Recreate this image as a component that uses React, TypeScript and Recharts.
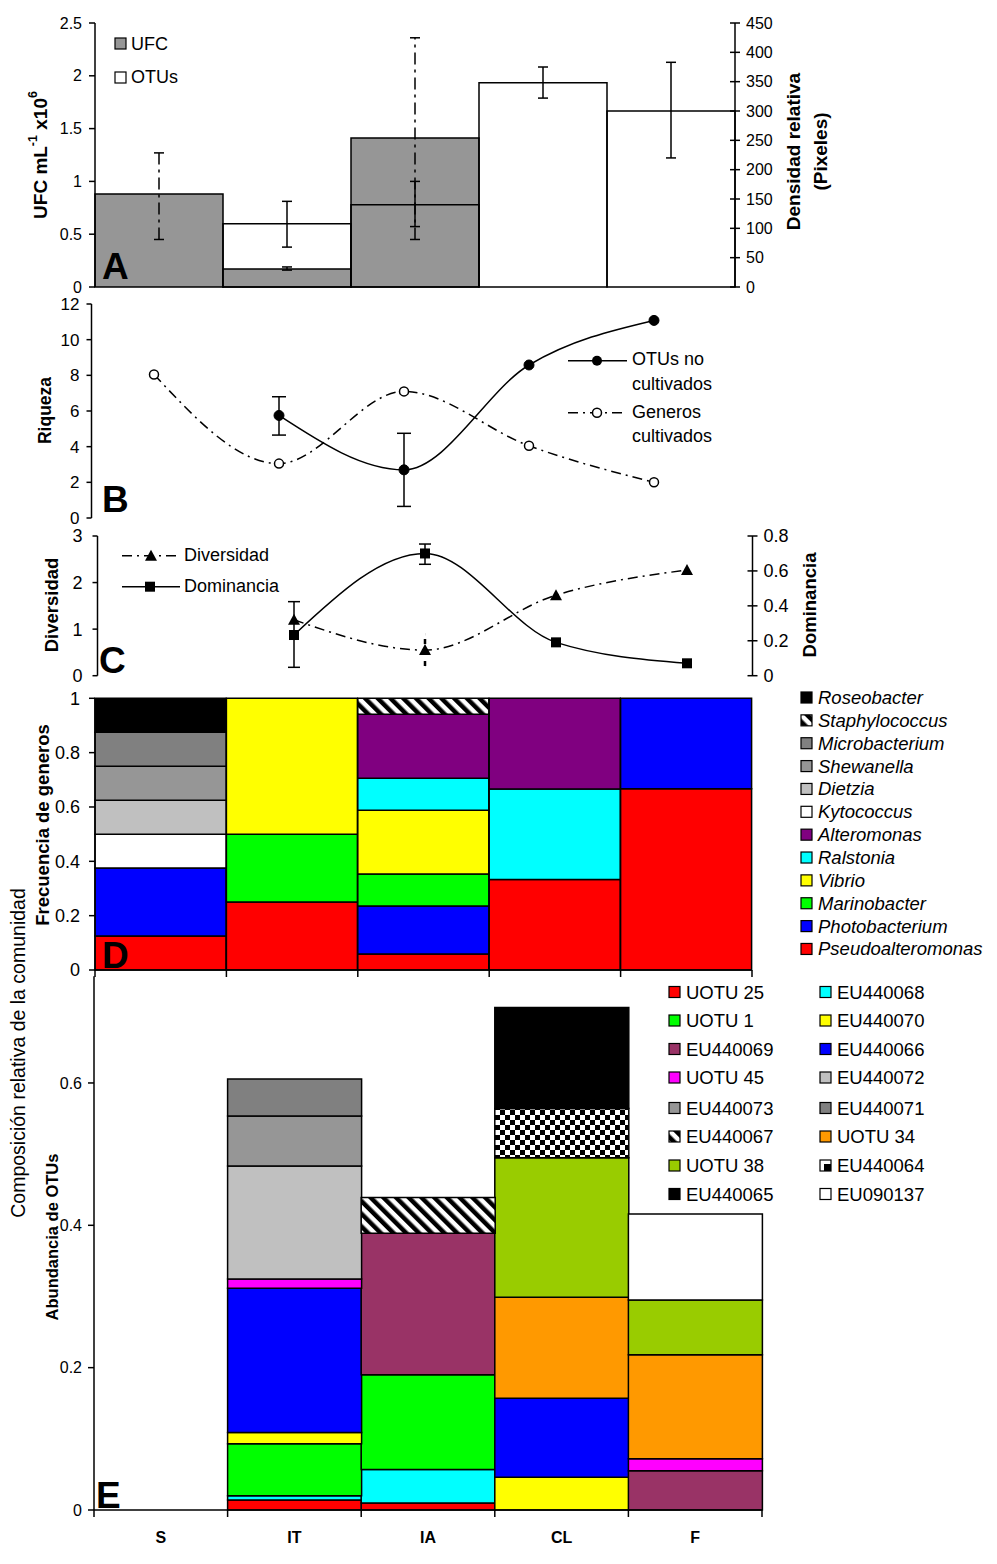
import React from 'react';
import { ComposedChart, Bar, Line, XAxis, YAxis, ErrorBar } from 'recharts';

const FONT = '"Liberation Sans", Arial, Helvetica, sans-serif';
const PAGE_W = 997;
const PAGE_H = 1564;

const categories = ['S', 'IT', 'IA', 'CL', 'F'];

// ---------- Panel A ----------
const ufcValues = [0.88, 0.17, 1.41, 0, 0];
const ufcLow = [0.45, 0.16, 0.45, 0, 0];
const ufcHigh = [1.27, 0.19, 2.36, 0, 0];
const otuDensity = [0, 108, 140, 348, 300];
const otuDensityLow = [0, 68, 103, 322, 220];
const otuDensityHigh = [0, 146, 180, 375, 383];
const ufcTicks = [0, 0.5, 1, 1.5, 2, 2.5];
const densityTicks = [0, 50, 100, 150, 200, 250, 300, 350, 400, 450];

// ---------- Panel B ----------
const generosCultivados = [8.05, 3.05, 7.1, 4.05, 2.0];
const otusNoCultivados = [null, 5.75, 2.7, 8.58, 11.08];
const otusNoCultLow = [null, 4.65, 0.65, null, null];
const otusNoCultHigh = [null, 6.8, 4.75, null, null];
const riquezaTicks = [0, 2, 4, 6, 8, 10, 12];

// ---------- Panel C ----------
const diversidad = [null, 1.2, 0.55, 1.73, 2.27];
const diversidadLow = [null, null, 0.21, null, null];
const diversidadHigh = [null, null, 0.89, null, null];
const dominancia = [null, 0.233, 0.7, 0.191, 0.071];
const dominanciaLow = [null, 0.048, 0.638, null, null];
const dominanciaHigh = [null, 0.424, 0.754, null, null];
const diversidadTicks = [0, 1, 2, 3];
const dominanciaTicks = [0, 0.2, 0.4, 0.6, 0.8];

// ---------- Panel D (genera frequency), stack order bottom -> top ----------
const pseudoalteromonas = [0.125, 0.25, 0.0588, 0.3333, 0.6667];
const photobacterium = [0.25, 0, 0.1765, 0, 0.3333];
const marinobacter = [0, 0.25, 0.1176, 0, 0];
const vibrio = [0, 0.5, 0.2353, 0, 0];
const ralstonia = [0, 0, 0.1176, 0.3333, 0];
const alteromonas = [0, 0, 0.2353, 0.3334, 0];
const kytococcus = [0.125, 0, 0, 0, 0];
const dietzia = [0.125, 0, 0, 0, 0];
const shewanella = [0.125, 0, 0, 0, 0];
const microbacterium = [0.125, 0, 0, 0, 0];
const staphylococcus = [0, 0, 0.0589, 0, 0];
const roseobacter = [0.125, 0, 0, 0, 0];
const frecuenciaTicks = [0, 0.2, 0.4, 0.6, 0.8, 1];

const generaSeries = [
  { name: 'Pseudoalteromonas', values: pseudoalteromonas },
  { name: 'Photobacterium', values: photobacterium },
  { name: 'Marinobacter', values: marinobacter },
  { name: 'Vibrio', values: vibrio },
  { name: 'Ralstonia', values: ralstonia },
  { name: 'Alteromonas', values: alteromonas },
  { name: 'Kytococcus', values: kytococcus },
  { name: 'Dietzia', values: dietzia },
  { name: 'Shewanella', values: shewanella },
  { name: 'Microbacterium', values: microbacterium },
  { name: 'Staphylococcus', values: staphylococcus },
  { name: 'Roseobacter', values: roseobacter },
];
const generaLegendOrder = [
  'Roseobacter', 'Staphylococcus', 'Microbacterium', 'Shewanella', 'Dietzia', 'Kytococcus',
  'Alteromonas', 'Ralstonia', 'Vibrio', 'Marinobacter', 'Photobacterium', 'Pseudoalteromonas',
];

// ---------- Panel E (OTU abundance), stack order bottom -> top ----------
const uotu25 = [0, 0.014, 0.01, 0, 0];
const eu440068 = [0, 0.006, 0.047, 0, 0];
const uotu1 = [0, 0.073, 0.133, 0, 0];
const eu440070 = [0, 0.016, 0, 0.046, 0];
const eu440066 = [0, 0.2025, 0, 0.111, 0];
const eu440069 = [0, 0, 0.199, 0, 0.055];
const uotu45 = [0, 0.013, 0, 0, 0.017];
const uotu34 = [0, 0, 0, 0.142, 0.146];
const uotu38 = [0, 0, 0, 0.196, 0.077];
const eu440072 = [0, 0.159, 0, 0, 0];
const eu440073 = [0, 0.07, 0, 0, 0];
const eu440071 = [0, 0.052, 0, 0, 0];
const eu440067 = [0, 0, 0.05, 0, 0];
const eu440064 = [0, 0, 0, 0.069, 0];
const eu440065 = [0, 0, 0, 0.142, 0];
const eu090137 = [0, 0, 0, 0, 0.121];
const abundanciaTicks = [0, 0.2, 0.4, 0.6];

const otuSeries = [
  { name: 'UOTU 25', values: uotu25 },
  { name: 'EU440068', values: eu440068 },
  { name: 'UOTU 1', values: uotu1 },
  { name: 'EU440070', values: eu440070 },
  { name: 'EU440066', values: eu440066 },
  { name: 'EU440069', values: eu440069 },
  { name: 'UOTU 45', values: uotu45 },
  { name: 'UOTU 34', values: uotu34 },
  { name: 'UOTU 38', values: uotu38 },
  { name: 'EU440072', values: eu440072 },
  { name: 'EU440073', values: eu440073 },
  { name: 'EU440071', values: eu440071 },
  { name: 'EU440067', values: eu440067 },
  { name: 'EU440064', values: eu440064 },
  { name: 'EU440065', values: eu440065 },
  { name: 'EU090137', values: eu090137 },
];
const otuLegendCol1 = ['UOTU 25', 'UOTU 1', 'EU440069', 'UOTU 45', 'EU440073', 'EU440067', 'UOTU 38', 'EU440065'];
const otuLegendCol2 = ['EU440068', 'EU440070', 'EU440066', 'EU440072', 'EU440071', 'UOTU 34', 'EU440064', 'EU090137'];

// ---------- styles ----------
const generaFill: Record<string, string> = {
  Pseudoalteromonas: '#FF0000',
  Photobacterium: '#0000FF',
  Marinobacter: '#00FF00',
  Vibrio: '#FFFF00',
  Ralstonia: '#00FFFF',
  Alteromonas: '#800080',
  Kytococcus: '#FFFFFF',
  Dietzia: '#C0C0C0',
  Shewanella: '#969696',
  Microbacterium: '#808080',
  Staphylococcus: 'url(#hatchDiag)',
  Roseobacter: '#000000',
};
const otuFill: Record<string, string> = {
  'UOTU 25': '#FF0000',
  'EU440068': '#00FFFF',
  'UOTU 1': '#00FF00',
  'EU440070': '#FFFF00',
  'EU440066': '#0000FF',
  'EU440069': '#993366',
  'UOTU 45': '#FF00FF',
  'UOTU 34': '#FF9900',
  'UOTU 38': '#99CC00',
  'EU440072': '#C0C0C0',
  'EU440073': '#969696',
  'EU440071': '#808080',
  'EU440067': 'url(#hatchDiag)',
  'EU440064': 'url(#checker)',
  'EU440065': '#000000',
  'EU090137': '#FFFFFF',
};

const AXIS = { stroke: '#000', strokeWidth: 1.5 };
const tickStyle = (fs: number) => ({ fontSize: fs, fill: '#000', fontFamily: FONT });

const crossTick = (axisX: number, fs: number) => (props: any) => {
  const { y, payload } = props;
  return (
    <g>
      <line x1={axisX - 5} x2={axisX + 5} y1={y} y2={y} stroke="#000" strokeWidth={1.5} />
      <text x={axisX + 11} y={y} dy="0.36em" fontSize={fs} fontFamily={FONT} fill="#000">
        {payload.value}
      </text>
    </g>
  );
};

const boundaryTick = (half: number, label: boolean) => (props: any) => {
  const { x, y, payload } = props;
  const last = payload.value === categories[categories.length - 1];
  return (
    <g>
      <line x1={x - half} x2={x - half} y1={y} y2={y + 7} stroke="#000" strokeWidth={1.5} />
      {last && <line x1={x + half} x2={x + half} y1={y} y2={y + 7} stroke="#000" strokeWidth={1.5} />}
      {label && (
        <text x={x} y={y + 33} textAnchor="middle" fontSize={16} fontWeight="bold" fontFamily={FONT} fill="#000">
          {payload.value}
        </text>
      )}
    </g>
  );
};

const errPair = (v: number | null, lo: number | null, hi: number | null) =>
  v == null || lo == null || hi == null ? null : [v - lo, hi - v];

const openCircle = (props: any) => {
  const { cx, cy, index } = props;
  if (cx == null || cy == null) return <g key={`oc${index}`} />;
  return <circle key={`oc${index}`} cx={cx} cy={cy} r={4.5} fill="#fff" stroke="#000" strokeWidth={1.5} />;
};
const filledCircle = (props: any) => {
  const { cx, cy, index } = props;
  if (cx == null || cy == null) return <g key={`fc${index}`} />;
  return <circle key={`fc${index}`} cx={cx} cy={cy} r={5} fill="#000" stroke="#000" strokeWidth={1} />;
};
const triangleDot = (props: any) => {
  const { cx, cy, index } = props;
  if (cx == null || cy == null) return <g key={`tr${index}`} />;
  return <path key={`tr${index}`} d={`M${cx},${cy - 6} L${cx + 6},${cy + 5} L${cx - 6},${cy + 5} Z`} fill="#000" />;
};
const squareDot = (props: any) => {
  const { cx, cy, index } = props;
  if (cx == null || cy == null) return <g key={`sq${index}`} />;
  return <rect key={`sq${index}`} x={cx - 5} y={cy - 5} width={10} height={10} fill="#000" />;
};

function PanelA() {
  const data = categories.map((c, i) => ({
    cat: c,
    ufc: ufcValues[i],
    ufcErr: errPair(ufcValues[i], ufcLow[i], ufcHigh[i]),
    otu: otuDensity[i],
    otuErr: errPair(otuDensity[i], otuDensityLow[i], otuDensityHigh[i]),
  }));
  return (
    <ComposedChart width={PAGE_W} height={300} data={data} margin={{ top: 23, right: 0, bottom: 13, left: 0 }} barCategoryGap={0} barGap="-100%">
      <XAxis dataKey="cat" hide scale="band" />
      <YAxis yAxisId="l" domain={[0, 2.5]} ticks={ufcTicks} interval={0} width={95} tickSize={6} tickMargin={7} axisLine={AXIS} tickLine={AXIS} tick={tickStyle(16)} />
      <YAxis yAxisId="r" orientation="right" domain={[0, 450]} ticks={densityTicks} interval={0} width={262} tickLine={false} axisLine={AXIS} tick={crossTick(735, 16)} />
      <Bar yAxisId="l" dataKey="ufc" fill="#969696" stroke="#000" strokeWidth={1.5} isAnimationActive={false}>
        <ErrorBar dataKey="ufcErr" width={5} stroke="#000" strokeWidth={1.5} strokeDasharray="12 5 3 5" isAnimationActive={false} />
      </Bar>
      <Bar yAxisId="r" dataKey="otu" fill="none" stroke="#000" strokeWidth={1.5} isAnimationActive={false}>
        <ErrorBar dataKey="otuErr" width={5} stroke="#000" strokeWidth={1.5} isAnimationActive={false} />
      </Bar>
    </ComposedChart>
  );
}

function PanelB() {
  const data = categories.map((c, i) => ({
    cat: c,
    gen: generosCultivados[i],
    otu: otusNoCultivados[i],
    otuErr: errPair(otusNoCultivados[i], otusNoCultLow[i], otusNoCultHigh[i]),
  }));
  return (
    <ComposedChart width={PAGE_W} height={240} data={data} margin={{ top: 14, right: 280.5, bottom: 12, left: 0 }}>
      <XAxis dataKey="cat" hide scale="band" />
      <YAxis domain={[0, 12]} ticks={riquezaTicks} interval={0} width={91.5} tickSize={5} tickMargin={7} axisLine={AXIS} tickLine={AXIS} tick={tickStyle(17)} />
      <Line dataKey="gen" type="monotone" stroke="#000" strokeWidth={1.5} strokeDasharray="10 5 2 5" dot={openCircle} isAnimationActive={false} />
      <Line dataKey="otu" type="monotone" stroke="#000" strokeWidth={1.5} dot={filledCircle} isAnimationActive={false}>
        <ErrorBar dataKey="otuErr" width={7} stroke="#000" strokeWidth={1.5} isAnimationActive={false} />
      </Line>
    </ComposedChart>
  );
}

function PanelC() {
  const data = categories.map((c, i) => ({
    cat: c,
    div: diversidad[i],
    divErr: errPair(diversidad[i], diversidadLow[i], diversidadHigh[i]),
    dom: dominancia[i],
    domErr: errPair(dominancia[i], dominanciaLow[i], dominanciaHigh[i]),
  }));
  return (
    <ComposedChart width={PAGE_W} height={160} data={data} margin={{ top: 11, right: 144.5, bottom: 9.3, left: 0 }}>
      <XAxis dataKey="cat" hide scale="band" />
      <YAxis yAxisId="l" domain={[0, 3]} ticks={diversidadTicks} interval={0} width={97.5} tickSize={5} tickMargin={10} axisLine={AXIS} tickLine={AXIS} tick={tickStyle(18)} />
      <YAxis yAxisId="r" orientation="right" domain={[0, 0.8]} ticks={dominanciaTicks} interval={0} width={100} tickLine={false} axisLine={AXIS} tick={crossTick(752.5, 18)} />
      <Line yAxisId="l" dataKey="div" type="monotone" stroke="#000" strokeWidth={1.5} strokeDasharray="10 5 2 5" dot={triangleDot} isAnimationActive={false}>
        <ErrorBar dataKey="divErr" width={0} stroke="#000" strokeWidth={2.5} strokeDasharray="5 6" isAnimationActive={false} />
      </Line>
      <Line yAxisId="r" dataKey="dom" type="monotone" stroke="#000" strokeWidth={1.5} dot={squareDot} isAnimationActive={false}>
        <ErrorBar dataKey="domErr" width={6} stroke="#000" strokeWidth={1.5} isAnimationActive={false} />
      </Line>
    </ComposedChart>
  );
}

function PanelD() {
  const data = categories.map((c, i) => {
    const row: Record<string, any> = { cat: c };
    generaSeries.forEach((s) => (row[s.name] = s.values[i]));
    return row;
  });
  const half = (752 - 95) / categories.length / 2;
  return (
    <ComposedChart width={PAGE_W} height={300} data={data} margin={{ top: 18.3, right: 245, bottom: 0, left: 0 }} barCategoryGap={0} barGap={0}>
      <XAxis dataKey="cat" scale="band" height={10} tickSize={0} tickMargin={0} interval={0} axisLine={AXIS} tickLine={false} tick={boundaryTick(half, false)} />
      <YAxis domain={[0, 1]} ticks={frecuenciaTicks} interval={0} width={95} tickSize={6} tickMargin={9} axisLine={AXIS} tickLine={AXIS} tick={tickStyle(18)} />
      {generaSeries.map((s) => (
        <Bar key={s.name} dataKey={s.name} stackId="g" fill={generaFill[s.name]} stroke="#000" strokeWidth={1.5} isAnimationActive={false} />
      ))}
    </ComposedChart>
  );
}

function PanelE() {
  const data = categories.map((c, i) => {
    const row: Record<string, any> = { cat: c };
    otuSeries.forEach((s) => (row[s.name] = s.values[i]));
    return row;
  });
  const half = (762 - 94) / categories.length / 2;
  return (
    <ComposedChart width={PAGE_W} height={594} data={data} margin={{ top: 6.2, right: 235, bottom: 0, left: 0 }} barCategoryGap={0} barGap={0}>
      <XAxis dataKey="cat" scale="band" height={54} tickSize={0} tickMargin={0} interval={0} axisLine={AXIS} tickLine={false} tick={boundaryTick(half, true)} />
      <YAxis domain={[0, 0.75]} ticks={abundanciaTicks} interval={0} width={94} tickSize={6} tickMargin={6} axisLine={AXIS} tickLine={AXIS} tick={tickStyle(16)} />
      {otuSeries.map((s) => (
        <Bar key={s.name} dataKey={s.name} stackId="o" fill={otuFill[s.name]} stroke="#000" strokeWidth={1.5} isAnimationActive={false} />
      ))}
    </ComposedChart>
  );
}

const RotText = ({ x, y, size, bold, children, ls }: any) => (
  <text
    x={x}
    y={y}
    transform={`rotate(-90 ${x} ${y})`}
    textAnchor="middle"
    dominantBaseline="central"
    fontSize={size}
    fontWeight={bold ? 'bold' : 'normal'}
    fontFamily={FONT}
    letterSpacing={ls || 0}
    fill="#000"
  >
    {children}
  </text>
);

const Txt = ({ x, y, size, bold, italic, children }: any) => (
  <text x={x} y={y} fontSize={size} fontWeight={bold ? 'bold' : 'normal'} fontStyle={italic ? 'italic' : 'normal'} fontFamily={FONT} fill="#000">
    {children}
  </text>
);

const Swatch = ({ x, cy, fill, special }: any) => {
  if (special === 'EU440064') {
    return (
      <g>
        <rect x={x} y={cy - 5.5} width={11} height={11} fill="#fff" stroke="#000" strokeWidth={1.2} />
        <rect x={x + 4} y={cy - 1.5} width={7} height={7} fill="#000" />
      </g>
    );
  }
  return <rect x={x} y={cy - 5.5} width={11} height={11} fill={fill} stroke="#000" strokeWidth={1.2} />;
};

function Overlay() {
  const dRow0 = 697.5;
  const dStep = 22.86;
  const eRows = [992, 1020.5, 1049, 1077.5, 1108, 1136.5, 1165.5, 1194];
  return (
    <svg width={PAGE_W} height={PAGE_H} style={{ position: 'absolute', left: 0, top: 0, pointerEvents: 'none' }}>
      {/* Panel A */}
      <text
        x={40}
        y={155}
        transform="rotate(-90 40 155)"
        textAnchor="middle"
        dominantBaseline="central"
        fontSize={19}
        fontWeight="bold"
        fontFamily={FONT}
        fill="#000"
      >
        UFC mL<tspan fontSize={12.5} dy={-7}>-1</tspan>
        <tspan dy={7}> x10</tspan>
        <tspan fontSize={12.5} dy={-7}>6</tspan>
      </text>
      <RotText x={793} y={151.5} size={19} bold>Densidad relativa</RotText>
      <RotText x={820} y={151.5} size={19} bold>(Pixeles)</RotText>
      <rect x={115} y={38} width={11} height={11} fill="#969696" stroke="#000" strokeWidth={1.2} />
      <Txt x={131} y={50} size={18}>UFC</Txt>
      <rect x={115} y={72} width={11} height={11} fill="#fff" stroke="#000" strokeWidth={1.2} />
      <Txt x={131} y={83} size={18}>OTUs</Txt>
      <Txt x={102} y={279} size={37} bold>A</Txt>

      {/* Panel B */}
      <RotText x={44.5} y={410.5} size={17.5} bold>Riqueza</RotText>
      <line x1={568} x2={627} y1={360.7} y2={360.7} stroke="#000" strokeWidth={1.5} />
      <circle cx={597} cy={360.7} r={5} fill="#000" />
      <Txt x={632} y={365} size={18}>OTUs no</Txt>
      <Txt x={632} y={390} size={18}>cultivados</Txt>
      <line x1={568} x2={627} y1={412.7} y2={412.7} stroke="#000" strokeWidth={1.5} strokeDasharray="10 5 2 5" />
      <circle cx={597} cy={412.7} r={4.5} fill="#fff" stroke="#000" strokeWidth={1.5} />
      <Txt x={632} y={418} size={18}>Generos</Txt>
      <Txt x={632} y={442} size={18}>cultivados</Txt>
      <Txt x={102} y={512} size={37} bold>B</Txt>

      {/* Panel C */}
      <RotText x={51} y={605} size={18.5} bold>Diversidad</RotText>
      <RotText x={809} y={605} size={18.5} bold>Dominancia</RotText>
      <line x1={122} x2={180} y1={555.7} y2={555.7} stroke="#000" strokeWidth={1.5} strokeDasharray="10 5 2 5" />
      <path d="M151,549.7 L157,560.7 L145,560.7 Z" fill="#000" />
      <Txt x={184} y={561} size={18}>Diversidad</Txt>
      <line x1={122} x2={180} y1={586.7} y2={586.7} stroke="#000" strokeWidth={1.5} />
      <rect x={145} y={581.7} width={10} height={10} fill="#000" />
      <Txt x={184} y={592} size={18}>Dominancia</Txt>
      <Txt x={99} y={673} size={37} bold>C</Txt>

      {/* Panel D */}
      <RotText x={42} y={825} size={18.5} bold>Frecuencia de generos</RotText>
      <RotText x={18} y={1053} size={19.5}>Composición relativa de la comunidad</RotText>
      {generaLegendOrder.map((name, i) => (
        <g key={name}>
          <Swatch x={801} cy={dRow0 + i * dStep} fill={generaFill[name]} />
          <Txt x={818} y={dRow0 + i * dStep + 6.5} size={18.5} italic>{name}</Txt>
        </g>
      ))}
      <Txt x={102} y={968} size={37} bold>D</Txt>

      {/* Panel E */}
      <RotText x={52} y={1237} size={16.5} bold>Abundancia de OTUs</RotText>
      {otuLegendCol1.map((name, i) => (
        <g key={name}>
          <Swatch x={669} cy={eRows[i]} fill={otuFill[name]} special={name} />
          <Txt x={686} y={eRows[i] + 6.5} size={18.5}>{name}</Txt>
        </g>
      ))}
      {otuLegendCol2.map((name, i) => (
        <g key={name}>
          <Swatch x={820} cy={eRows[i]} fill={otuFill[name]} special={name} />
          <Txt x={837} y={eRows[i] + 6.5} size={18.5}>{name}</Txt>
        </g>
      ))}
      <Txt x={96} y={1508} size={37} bold>E</Txt>
    </svg>
  );
}

export default function App() {
  return (
    <div style={{ position: 'absolute', left: 0, top: 0, width: PAGE_W, height: PAGE_H, background: '#fff', fontFamily: FONT, overflow: 'hidden' }}>
      <svg width={0} height={0} style={{ position: 'absolute' }}>
        <defs>
          <pattern id="hatchDiag" patternUnits="userSpaceOnUse" width={9} height={9} patternTransform="rotate(-45)">
            <rect width={9} height={9} fill="#fff" />
            <rect width={4.5} height={9} fill="#000" />
          </pattern>
          <pattern id="checker" patternUnits="userSpaceOnUse" width={10} height={10}>
            <rect width={10} height={10} fill="#fff" />
            <rect width={5} height={5} fill="#000" />
            <rect x={5} y={5} width={5} height={5} fill="#000" />
          </pattern>
        </defs>
      </svg>
      <div style={{ position: 'absolute', left: 0, top: 0 }}><PanelA /></div>
      <div style={{ position: 'absolute', left: 0, top: 290 }}><PanelB /></div>
      <div style={{ position: 'absolute', left: 0, top: 525 }}><PanelC /></div>
      <div style={{ position: 'absolute', left: 0, top: 680 }}><PanelD /></div>
      <div style={{ position: 'absolute', left: 0, top: 970 }}><PanelE /></div>
      <Overlay />
    </div>
  );
}
